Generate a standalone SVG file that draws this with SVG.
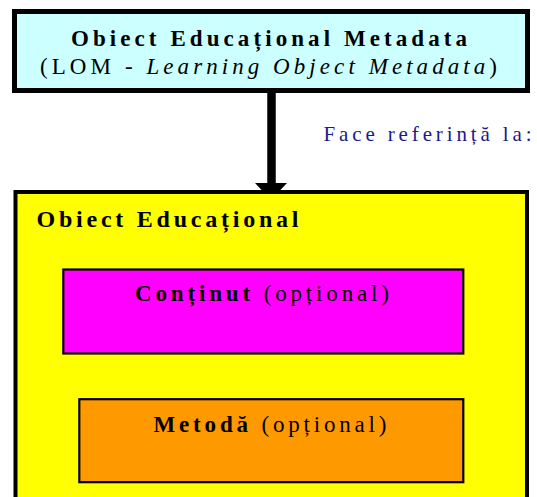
<svg xmlns="http://www.w3.org/2000/svg" width="537" height="497" viewBox="0 0 537 497">
<style>
text{font-family:"Liberation Serif","Times New Roman",serif;fill:#000;font-size:23px}
.b{font-weight:bold}
.ref{fill:#1a1a8c;font-size:21px}
.box{stroke:#000}
</style>
<rect width="537" height="497" fill="#fff"/>
<g id="lom">
<rect class="box" x="14.5" y="11.5" width="513" height="79" fill="#ccffff" stroke-width="5"/>
<text class="b" x="71" y="46" textLength="396" lengthAdjust="spacing">Obiect Educațional Metadata</text>
<text x="40" y="74" textLength="457" lengthAdjust="spacing">(LOM - <tspan font-style="italic">Learning Object Metadata</tspan>)</text>
</g>
<g id="connectors">
<line x1="271.5" y1="92" x2="271.5" y2="186" stroke="#000" stroke-width="8.5"/>
<path d="M255,183 L287,183 L271,200 Z" fill="#000"/>
<text class="ref" x="323.5" y="141" textLength="208" lengthAdjust="spacing">Face referință la:</text>
</g>
<g id="obiect">
<rect class="box" x="15.5" y="192" width="511.5" height="320" fill="#ffff00" stroke-width="4"/>
<text class="b" x="36.5" y="227" textLength="262" lengthAdjust="spacing" style="font-size:24px">Obiect Educațional</text>
</g>
<g id="continut">
<rect class="box" x="63.3" y="269.5" width="400" height="84" fill="#ff00ff" stroke-width="2.2"/>
<text x="135" y="301" textLength="254" lengthAdjust="spacing"><tspan font-weight="bold">Conținut</tspan> (opțional)</text>
</g>
<g id="metoda">
<rect class="box" x="79.3" y="399.2" width="384" height="83" fill="#ff9900" stroke-width="2.2"/>
<text x="153.5" y="431.5" textLength="233" lengthAdjust="spacing"><tspan font-weight="bold">Metodă</tspan> (opțional)</text>
</g>
</svg>
